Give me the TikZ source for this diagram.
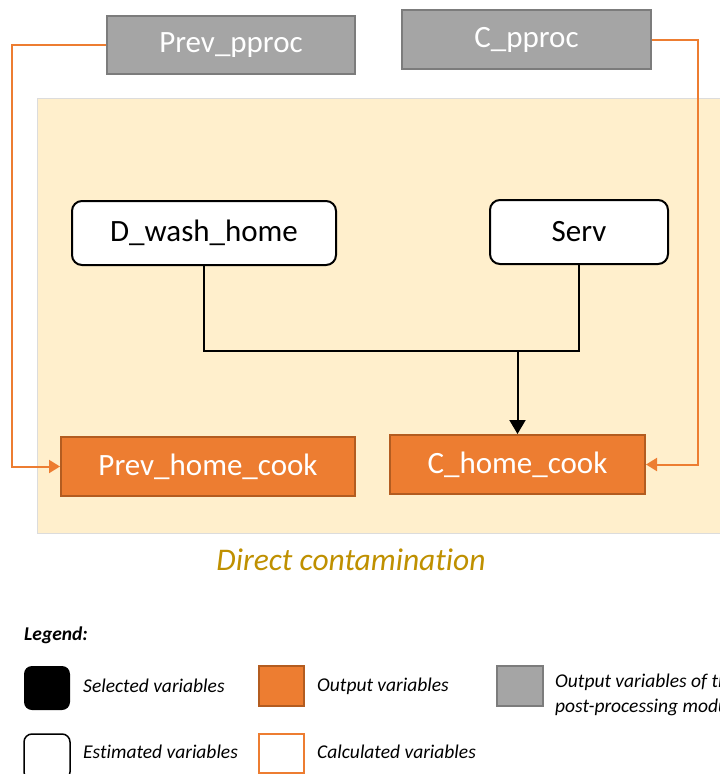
\documentclass[tikz,border=0pt]{standalone}
\usepackage{fontspec}
\setmainfont{Carlito}[Ligatures=NoCommon]
\usetikzlibrary{arrows.meta}

\definecolor{zone}{HTML}{FFEFCC}
\definecolor{zoneline}{HTML}{DCDCDC}
\definecolor{outfill}{HTML}{ED7D31}
\definecolor{outline}{HTML}{B35C20}
\definecolor{ppfill}{HTML}{A5A5A5}
\definecolor{ppline}{HTML}{7C7C7C}
\definecolor{ttl}{HTML}{BF9000}

\tikzset{
  boxtext/.style={font=\fontsize{31}{36}\selectfont, inner sep=0pt, line width=2pt},
  ppbox/.style={boxtext, rectangle, fill=ppfill, draw=ppline, text=white},
  outbox/.style={boxtext, rectangle, fill=outfill, draw=outline, text=white},
  estbox/.style={boxtext, rectangle, rounded corners=10pt, fill=white, draw=black, text=black},
  flow/.style={line width=2pt, draw=black},
  feed/.style={line width=2pt, draw=outfill},
  blacktip/.style={-{Triangle[length=14pt,width=16pt]}},
  orangetip/.style={-{Triangle[length=11pt,width=13pt]}},
  legtext/.style={font=\fontsize{19.5}{25}\selectfont\itshape, anchor=west, inner sep=0pt, align=left}
}

\begin{document}
\begin{tikzpicture}[x=1pt,y=-1pt]
\useasboundingbox (0,0) rectangle (720,774);

% shaded zone of the direct-contamination sub-model
\fill[zone, draw=zoneline, line width=1pt] (37,98) rectangle (735,533);

% variables from the post-processing module
\node[ppbox, minimum width=248pt, minimum height=58pt] (prevp) at (231,45) {Prev\_pproc};
\node[ppbox, minimum width=249pt, minimum height=59pt] (cpproc) at (526.5,39.5) {C\_pproc};

% estimated variables
\node[estbox, minimum width=264pt, minimum height=64pt] (dwash) at (204,233) {D\_wash\_home};
\node[estbox, minimum width=178pt, minimum height=64pt] (serv) at (579,232) {Serv};

% output variables
\node[outbox, minimum width=294pt, minimum height=59pt] (prevhome) at (208,466.5) {Prev\_home\_cook};
\node[outbox, minimum width=255pt, minimum height=59pt] (chome) at (517.5,464.5) {C\_home\_cook};

% black connectors
\coordinate (mid) at (517.5,351);
\draw[flow] (dwash.south) |- (mid) -| (serv.south);
\draw[flow, blacktip] (mid) -- (chome.north);

% orange feed lines
\coordinate (lrail) at (12,0);
\coordinate (rrail) at (698,0);
\draw[feed, orangetip] (prevp.west) -| (lrail |- prevhome.west) -- (prevhome.west);
\draw[feed, orangetip] (cpproc.east) -| (rrail |- chome.east) -- (chome.east);

% sub-model title (kern keeps "t" and "i" as separate glyphs)
\node[font=\fontsize{31.5}{36}\selectfont\itshape, text=ttl, inner sep=0pt] (title) at (351,560) {Direct contaminat\kern0pt ion};

% legend
\node[font=\fontsize{19.5}{24}\selectfont\bfseries\itshape, anchor=west, inner sep=0pt] (legend) at (24,635) {Legend:};

\fill[black, rounded corners=8pt] (24,666) rectangle (70,710);
\node[legtext] (lsel) at (83,686) {Selected variables};

\fill[outfill, draw=outline, line width=1.5pt] (259,666) rectangle (304,706);
\node[legtext] (lout) at (317,686) {Output variables};

\fill[ppfill, draw=ppline, line width=1.5pt] (497,666) rectangle (543,706);
\node[legtext, anchor=north west] (lpp) at (555,674) {Output variables of the\\post-processing module};

\draw[black, line width=1.5pt, rounded corners=8pt, fill=white] (24,734) rectangle (70,780);
\node[legtext] (lest) at (83,752) {Estimated variables};

\draw[outfill, line width=1.5pt, fill=white] (259,734) rectangle (304,773);
\node[legtext] (lcalc) at (317,752) {Calculated variables};
\end{tikzpicture}
\end{document}
